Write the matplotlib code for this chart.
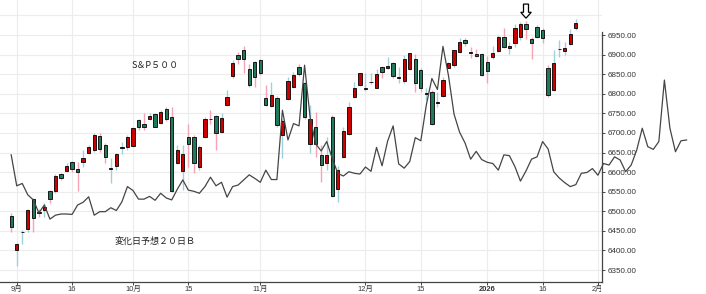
import matplotlib
matplotlib.use("Agg")
import matplotlib.pyplot as plt
from matplotlib.patches import Polygon
from matplotlib.transforms import Bbox, TransformedBbox

# ---- data (x = trading-day index, 0 = 2025-09-02) ----
candle_x = list(range(-1, 102))
opens = [6489, 6401, 6446, 6456, 6531, 6497, 6503, 6552, 6553, 6594,
         6604, 6627, 6607, 6627, 6648, 6656, 6692, 6669, 6608, 6616,
         6661, 6665, 6667, 6733, 6723, 6735, 6748, 6725, 6760, 6740,
         6622, 6603, 6690, 6690, 6614, 6690, 6736, 6742, 6703, 6771,
         6845, 6899, 6913, 6862, 6882, 6885, 6788, 6769, 6788, 6695,
         6787, 6818, 6869, 6827, 6673, 6714, 6644, 6624, 6740, 6556,
         6638, 6697, 6793, 6822, 6812, 6830, 6816, 6868, 6865, 6878,
         6841, 6833, 6862, 6888, 6861, 6800, 6805, 6777, 6794, 6867,
         6873, 6906, 6937, 6906, 6902, 6901, 6880, 6893, 6908, 6946,
         6916, 6929, 6944, 6978, 6940, 6971, 6963, 6867, 6810, 6914,
         6909, 6926, 6967]
highs = [6495, 6420, 6452, 6507, 6533, 6507, 6520, 6554, 6594, 6597,
         6622, 6629, 6627, 6656, 6669, 6699, 6699, 6674, 6635, 6650,
         6678, 6695, 6716, 6736, 6750, 6750, 6752, 6758, 6765, 6765,
         6670, 6669, 6724, 6695, 6668, 6741, 6758, 6745, 6750, 6810,
         6887, 6907, 6922, 6877, 6884, 6890, 6822, 6831, 6794, 6735,
         6842, 6856, 6876, 6830, 6771, 6754, 6669, 6690, 6745, 6616,
         6716, 6780, 6831, 6854, 6852, 6852, 6862, 6872, 6895, 6882,
         6868, 6898, 6904, 6902, 6866, 6814, 6810, 6805, 6844, 6882,
         6913, 6942, 6942, 6920, 6914, 6903, 6896, 6922, 6950, 6967,
         6932, 6978, 6984, 6987, 6946, 6976, 6969, 6874, 6912, 6937,
         6933, 6965, 6990]
lows = [6446, 6361, 6416, 6448, 6446, 6486, 6486, 6520, 6546, 6581,
        6601, 6601, 6553, 6614, 6646, 6652, 6652, 6624, 6571, 6605,
        6646, 6656, 6665, 6707, 6707, 6733, 6714, 6722, 6730, 6550,
        6620, 6554, 6614, 6597, 6605, 6688, 6724, 6656, 6700, 6768,
        6840, 6875, 6852, 6818, 6818, 6848, 6768, 6765, 6716, 6635,
        6783, 6815, 6845, 6735, 6648, 6639, 6576, 6605, 6536, 6524,
        6635, 6695, 6790, 6820, 6808, 6826, 6814, 6840, 6862, 6841,
        6827, 6827, 6860, 6805, 6805, 6784, 6719, 6765, 6792, 6865,
        6869, 6903, 6923, 6891, 6894, 6845, 6827, 6890, 6906, 6918,
        6901, 6920, 6937, 6939, 6888, 6942, 6929, 6793, 6808, 6895,
        6899, 6924, 6964]
closes = [6461, 6416, 6448, 6503, 6482, 6495, 6512, 6531, 6590, 6584,
          6616, 6608, 6600, 6635, 6665, 6695, 6658, 6638, 6610, 6645,
          6663, 6690, 6712, 6714, 6716, 6742, 6716, 6754, 6736, 6553,
          6656, 6645, 6672, 6622, 6665, 6736, 6735, 6699, 6739, 6793,
          6878, 6890, 6890, 6822, 6842, 6852, 6771, 6797, 6720, 6731,
          6833, 6848, 6850, 6740, 6736, 6672, 6618, 6644, 6539, 6605,
          6706, 6767, 6814, 6852, 6814, 6831, 6850, 6856, 6872, 6845,
          6843, 6888, 6903, 6827, 6816, 6802, 6722, 6779, 6835, 6879,
          6911, 6933, 6929, 6905, 6896, 6848, 6859, 6903, 6946, 6920,
          6923, 6967, 6978, 6965, 6929, 6946, 6942, 6797, 6878, 6915,
          6916, 6952, 6980]

# 変化日予想20日B (drawn on the price scale, runs 20 days past the last candle)
line_x = list(range(-1, 122))
line_y = [6644, 6565, 6571, 6542, 6529, 6496, 6516, 6480, 6490, 6493,
          6493, 6492, 6516, 6523, 6537, 6490, 6499, 6499, 6509, 6502,
          6524, 6563, 6553, 6531, 6531, 6538, 6528, 6546, 6534, 6529,
          6556, 6580, 6554, 6551, 6546, 6563, 6587, 6565, 6574, 6536,
          6563, 6567, 6580, 6593, 6584, 6574, 6605, 6581, 6581, 6758,
          6682, 6724, 6718, 6873, 6740, 6672, 6654, 6678, 6635, 6597,
          6590, 6601, 6597, 6595, 6613, 6602, 6663, 6616, 6679, 6718,
          6621, 6610, 6627, 6688, 6680, 6772, 6839, 6811, 6921, 6846,
          6748, 6702, 6674, 6633, 6653, 6632, 6625, 6622, 6605, 6644,
          6642, 6614, 6577, 6603, 6633, 6639, 6678, 6659, 6601, 6585,
          6573, 6563, 6568, 6597, 6599, 6609, 6592, 6622, 6618, 6639,
          6631, 6601, 6618, 6656, 6712, 6665, 6658, 6678, 6835, 6712,
          6652, 6680, 6682]

xtick_pos = [0, 10, 21, 31, 44, 63, 73, 85, 95, 105]
xtick_labels = ["9月", "16", "10月", "15", "11月", "12月", "15", "2026", "16", "2月"]
ytick_vals = list(range(6350, 7000, 50))
arrow_x = 92

# ---- figure ----
W, H = 706, 294
fig = plt.figure(figsize=(W / 100, H / 100), dpi=100)
ax_bottom = (294 - 281.5) / 294
ax = fig.add_axes([0, ax_bottom, 602 / W, 1 - ax_bottom])

RED = "#cc0000"
GREEN = "#1e7a58"
PINK = "#f5a3b5"
BLUE = "#9fd0dc"

for x, o, h, l, c in zip(candle_x, opens, highs, lows, closes):
    up = c >= o
    wick_col = BLUE if up else PINK
    ax.vlines(x, l, h, color=wick_col, lw=1.0, zorder=2)
    bottom = min(o, c)
    height = max(abs(c - o), 1.0)
    ax.bar(x, height, bottom=bottom, width=0.6,
           color=RED if up else GREEN, edgecolor="black", lw=0.6, zorder=3)

ax.plot(line_x, line_y, color="#454545", lw=0.9, zorder=4, clip_on=False)

ax.set_xlim(-3.02, 105.73)
ax.set_ylim(6320.7, 7039.4)

ax.set_xticks(xtick_pos)
ax.set_xticklabels(xtick_labels)
ax.set_yticks(ytick_vals)
ax.set_yticks([7000], minor=True)
ax.set_yticklabels([f"{v:.2f}" for v in ytick_vals])
ax.yaxis.tick_right()

for lab in ax.get_yticklabels():
    lab.set_family(["Liberation Sans", "DejaVu Sans"])
    lab.set_fontsize(5.8)
    lab.set_color("#333333")
for lab in ax.get_xticklabels():
    if lab.get_text() == "2026":
        lab.set_family(["Liberation Sans"])
        lab.set_fontweight("bold")
        lab.set_fontsize(5.4)
    else:
        lab.set_family(["Liberation Sans", "Noto Sans CJK JP"])
        lab.set_fontsize(5.4)
    lab.set_color("#333333")

ax.tick_params(axis="y", which="major", right=True, left=False, length=2.5,
               width=0.7, color="#444444", pad=1.5)
ax.tick_params(axis="y", which="minor", right=False, left=False, length=0)
ax.tick_params(axis="x", length=2.5, width=0.7, color="#444444", pad=1)

ax.grid(True, which="major", color="#ececec", lw=0.8, zorder=0)
ax.grid(True, which="minor", axis="y", color="#ececec", lw=0.8, zorder=0)
ax.set_axisbelow(True)

for s in ("left", "top"):
    ax.spines[s].set_visible(False)
ax.spines["right"].set_bounds(6320.7, 6958)
ax.spines["right"].set_color("#444444")
ax.spines["bottom"].set_color("#444444")
ax.spines["right"].set_linewidth(0.9)
ax.spines["bottom"].set_linewidth(0.9)

# clip the last x label at the right spine
clipbox = TransformedBbox(Bbox.from_extents(0, 0, 601 / W, 1), fig.transFigure)
lab_last = ax.get_xticklabels()[-1]
lab_last.set_clip_box(clipbox)
lab_last.set_clip_on(True)

# texts
ax.text(25, 6871, "S＆P５００", family=["Noto Sans CJK JP", "DejaVu Sans"],
        fontsize=6.5, color="#222222", ha="center", va="center")
ax.text(25, 6424, "変化日予想２０日Ｂ", family=["Noto Sans CJK JP", "DejaVu Sans"],
        fontsize=6.5, color="#222222", ha="center", va="center")

# hollow down arrow above the marked candle
sh, hh = 0.45, 0.95
arrow = Polygon([(arrow_x - sh, 7029), (arrow_x + sh, 7029), (arrow_x + sh, 7008),
                 (arrow_x + hh, 7008), (arrow_x, 6993), (arrow_x - hh, 7008),
                 (arrow_x - sh, 7008)], closed=True, facecolor="white",
                edgecolor="black", lw=0.9, zorder=6, clip_on=False)
ax.add_patch(arrow)

fig.savefig("out.png", dpi=100)
